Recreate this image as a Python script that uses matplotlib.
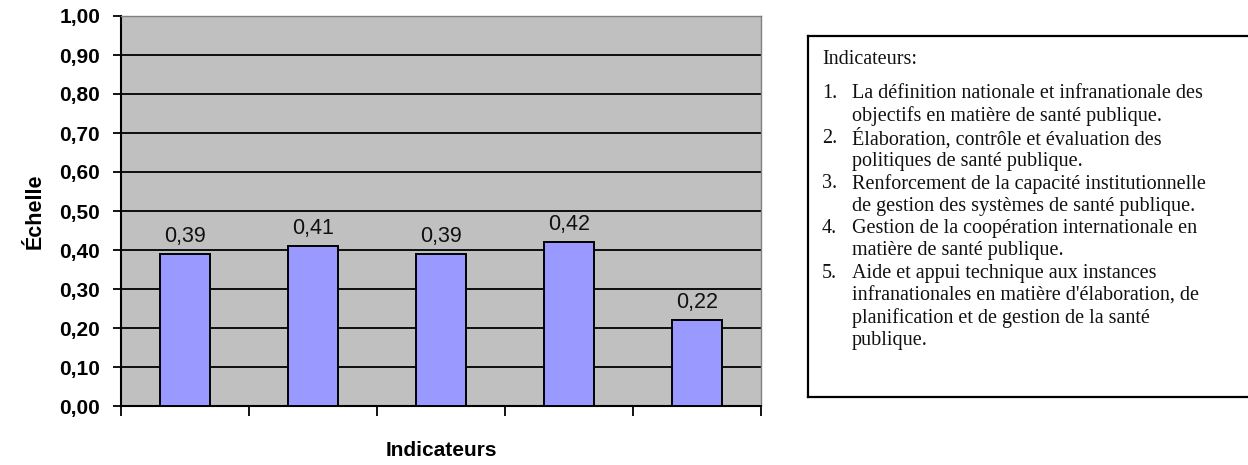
import matplotlib.pyplot as plt
from matplotlib.ticker import FuncFormatter, MultipleLocator
import numpy as np

# data
indicateurs = ["1", "2", "3", "4", "5"]
valeurs = [0.39, 0.41, 0.39, 0.42, 0.22]

legende_titre = "Indicateurs:"
legende_items = [
    ["La définition nationale et infranationale des",
     "objectifs en matière de santé publique."],
    ["Élaboration, contrôle et évaluation des",
     "politiques de santé publique."],
    ["Renforcement de la capacité institutionnelle",
     "de gestion des systèmes de santé publique."],
    ["Gestion de la coopération internationale en",
     "matière de santé publique."],
    ["Aide et appui technique aux instances",
     "infranationales en matière d'élaboration, de",
     "planification et de gestion de la santé",
     "publique."],
]

W, H = 1248, 465


def virgule(v, pos=None):
    """ French decimal comma """
    return f"{v:.2f}".replace(".", ",")


fig = plt.figure(figsize=(W / 100, H / 100), dpi=100)
fig.patch.set_facecolor("white")

# plot area in pixels: x 121..761, y 16..406
ax = fig.add_axes([121 / W, 1 - 406 / H, (761 - 121) / W, (406 - 16) / H])
ax.set_facecolor("#c0c0c0")

x = np.arange(len(indicateurs))
bars = ax.bar(x, valeurs, width=0.39, color="#9999ff", edgecolor="black",
              linewidth=1.4, zorder=3)
for b, v in zip(bars, valeurs):
    ax.text(b.get_x() + b.get_width() / 2, v + 0.018, virgule(v),
            ha="center", va="bottom", fontsize=15.5, family="Liberation Sans",
            color="#111111", zorder=4)

ax.set_xlim(-0.5, len(indicateurs) - 0.5)
ax.set_ylim(0, 1.0)
ax.yaxis.set_major_locator(MultipleLocator(0.1))
ax.yaxis.set_major_formatter(FuncFormatter(virgule))
ax.set_xticks(np.arange(-0.5, len(indicateurs), 1.0))
ax.set_xticklabels([])
ax.grid(True, axis="y", color="black", linewidth=1.3, zorder=1)
ax.set_axisbelow(True)

ax.tick_params(axis="y", length=6, width=1.3, pad=9, labelsize=15)
ax.tick_params(axis="x", length=7, width=1.3)
for lab in ax.get_yticklabels():
    lab.set_fontweight("bold")
    lab.set_family("Liberation Sans")

for s in ["left", "bottom"]:
    ax.spines[s].set_color("black")
    ax.spines[s].set_linewidth(1.5)
for s in ["top", "right"]:
    ax.spines[s].set_color("#808080")
    ax.spines[s].set_linewidth(1.0)

ax.set_ylabel("Échelle", fontsize=15.5, fontweight="bold",
              family="Liberation Sans", labelpad=10)
ax.set_xlabel("Indicateurs", fontsize=15, fontweight="bold",
              family="Liberation Sans", labelpad=15)

# legend box on the right, cut by the image edge
lax = fig.add_axes([808 / W, 1 - 397 / H, (W + 10 - 808) / W, (397 - 36) / H])
lax.set_xticks([])
lax.set_yticks([])
lax.set_facecolor("white")
for s in lax.spines.values():
    s.set_linewidth(1.6)
    s.set_color("black")


def fy(py):
    return 1 - py / H


serif = "Liberation Serif"
taille = 14.5
fig.text(822 / W, fy(60), legende_titre, family=serif, fontsize=taille,
         va="center", ha="left", color="#111111")
ligne = 0
for i, item in enumerate(legende_items):
    for j, txt in enumerate(item):
        py = 94 + ligne * 22.4
        if j == 0:
            fig.text(822 / W, fy(py), f"{i + 1}.", family=serif,
                     fontsize=taille, va="center", ha="left", color="#111111")
        fig.text(852 / W, fy(py), txt, family=serif, fontsize=taille,
                 va="center", ha="left", color="#111111")
        ligne += 1

fig.savefig("out.png", dpi=100)
